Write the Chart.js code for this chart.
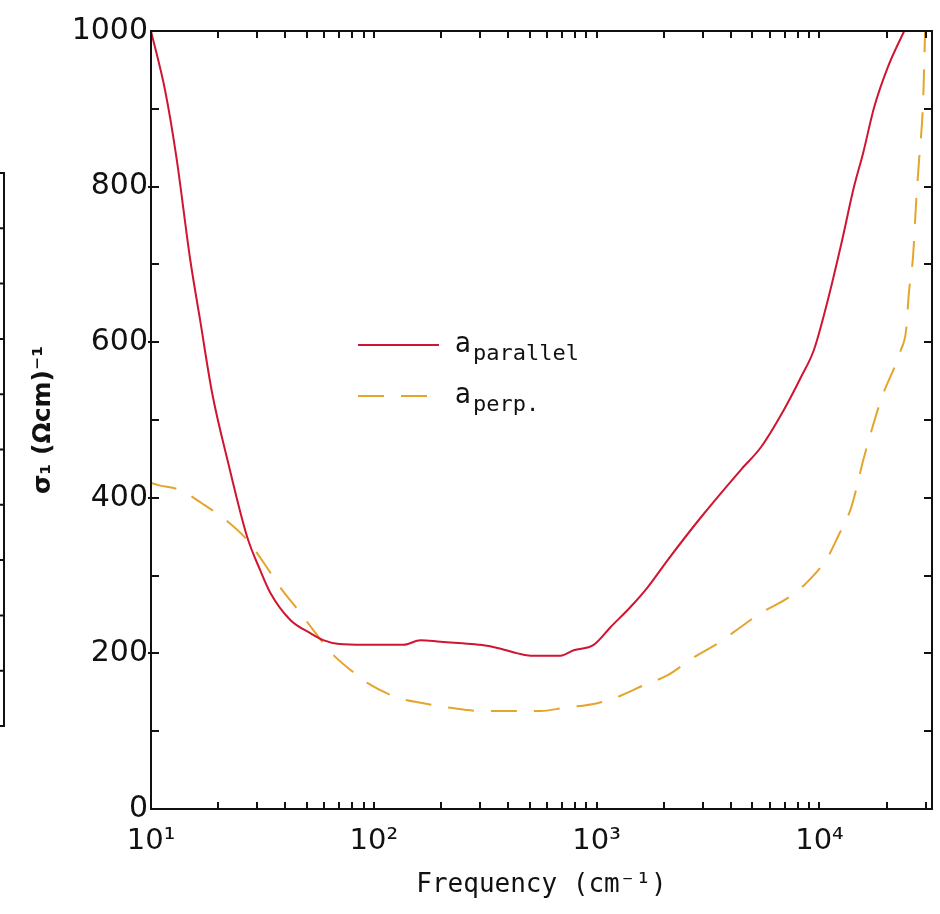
<!DOCTYPE html>
<html lang="en">
<head>
<meta charset="UTF-8">
<title>Optical conductivity</title>
<script src="https://cdn.jsdelivr.net/npm/chart.js@4.4.1/dist/chart.umd.min.js"></script>
<style>
  html, body { margin: 0; padding: 0; background: #fff; }
  #wrap { width: 940px; height: 914px; }
</style>
</head>
<body>
<div id="wrap"><canvas id="sigma-chart" width="940" height="914"></canvas></div>
<script>
// values
const parFreq = [10, 11.6, 13, 15, 16.6, 18.8, 22.2, 27, 30.9, 34.3, 42.2, 51.9, 59.3, 70, 90, 136, 162, 199, 250, 301,
    371, 442, 505, 600, 689, 789, 970, 1157, 1422, 1694, 2084, 2940, 4440, 5460, 6920, 8260, 9440, 10900, 12500, 14300,
    15700, 17600, 20300, 24000];
const parSigma = [1000, 922, 838, 706, 629, 535, 445, 350, 307, 278, 243, 226, 217, 212, 211, 211, 217, 215, 213, 211,
    206, 200, 197, 197, 197, 204, 211, 234, 260, 285, 320, 375, 436, 465, 513, 555, 590, 654, 725, 800,
    843, 902, 954, 1000];

const perpFreq = [10, 10.9, 13.5, 16.9, 22.2, 27, 32.5, 38, 46.8, 53.5, 65.8, 78.4, 93.5, 128, 167, 221, 301, 560, 711, 1009,
    1242, 1626, 2084, 2729, 3500, 4440, 5460, 7290, 8700, 10900, 12100, 13900, 15850, 18900, 23200, 24500, 25200, 26300, 27200, 28000,
    29200, 29800];
const perpSigma = [419, 416, 410, 393, 369, 346, 314, 285, 252, 230, 198, 179, 162, 143, 136, 130, 126, 126, 130, 136,
    144, 159, 172, 195, 213, 234, 252, 272, 290, 324, 350, 388, 452, 526, 590, 616, 663, 710, 783, 834,
    911, 1000];

const xTickValues = [10, 100, 1000, 10000];
const xTickLabels = ['10¹', '10²', '10³', '10⁴'];
const yTickValues = [0, 200, 400, 600, 800, 1000];
const yMinorStep = 100;

const legendMain = ['a', 'a'];
const legendSub = ['parallel', 'perp.'];

const RED = '#cf1530';
const ORANGE = '#e5a52c';

// minor ticks of the log axis: 2..9 in every decade
const xMinorTicks = [];
for (let d = 10; d < 40000; d *= 10) {
    for (let m = 1; m <= 9; m++) {
        const v = d * m;
        if (v <= 32000) xMinorTicks.push(v);
    }
}

const toPoints = (xs, ys) => xs.map((v, i) => ({ x: v, y: ys[i] }));

// box, inward ticks, legend and the edge of the neighbouring panel
const frameAndTicks = {
    id: 'frameAndTicks',
    beforeDraw(chart) {
        const { ctx } = chart;
        ctx.save();
        ctx.strokeStyle = '#111';
        ctx.lineWidth = 2;
        ctx.beginPath();
        ctx.moveTo(0, 173); ctx.lineTo(4, 173); ctx.lineTo(4, 726); ctx.lineTo(0, 726);
        for (let i = 1; i < 10; i++) {
            const py = 173 + i * 55.3;
            ctx.moveTo(0, py); ctx.lineTo(4, py);
        }
        ctx.stroke();
        ctx.restore();
    },
    afterDatasetsDraw(chart) {
        const { ctx, chartArea: a, scales: { x, y } } = chart;
        ctx.save();
        ctx.strokeStyle = '#111';
        ctx.lineWidth = 2;
        ctx.strokeRect(a.left, a.top, a.right - a.left, a.bottom - a.top);
        ctx.beginPath();
        xMinorTicks.forEach(v => {
            const px = Math.round(x.getPixelForValue(v));
            ctx.moveTo(px, a.bottom); ctx.lineTo(px, a.bottom - 7);
            ctx.moveTo(px, a.top); ctx.lineTo(px, a.top + 7);
        });
        for (let v = yMinorStep; v < 1000; v += yMinorStep) {
            const py = Math.round(y.getPixelForValue(v));
            const major = yTickValues.includes(v);
            ctx.moveTo(a.left - (major ? 3 : 0), py); ctx.lineTo(a.left + 8, py);
            ctx.moveTo(a.right, py); ctx.lineTo(a.right - 8, py);
        }
        ctx.stroke();

        // legend inside the plot
        const lx0 = a.left + 207, lx1 = a.left + 288;
        const rows = [a.top + 314, a.top + 365];
        chart.data.datasets.forEach((ds, i) => {
            ctx.strokeStyle = ds.borderColor;
            ctx.lineWidth = 2;
            ctx.setLineDash(ds.borderDash || []);
            ctx.beginPath();
            ctx.moveTo(lx0, rows[i]); ctx.lineTo(lx1, rows[i]);
            ctx.stroke();
            ctx.setLineDash([]);
            ctx.fillStyle = '#111';
            ctx.textBaseline = 'alphabetic';
            ctx.font = '29px "DejaVu Sans Condensed", "DejaVu Sans"';
            ctx.fillText(legendMain[i], a.left + 304, rows[i] + 7);
            const w = ctx.measureText(legendMain[i]).width;
            ctx.font = '22px "DejaVu Sans Mono"';
            ctx.fillText(legendSub[i], a.left + 306 + w, rows[i] + 15);
        });
        ctx.restore();
    }
};

const ctx = document.getElementById('sigma-chart').getContext('2d');
const chart = new Chart(ctx, {
    type: 'line',
    data: {
        datasets: [{
            label: 'a parallel',
            data: toPoints(parFreq, parSigma),
            borderColor: RED,
            borderWidth: 2,
            pointRadius: 0,
            cubicInterpolationMode: 'monotone',
            fill: false
        }, {
            label: 'a perp.',
            data: toPoints(perpFreq, perpSigma),
            borderColor: ORANGE,
            borderWidth: 2,
            borderDash: [26, 17],
            pointRadius: 0,
            cubicInterpolationMode: 'monotone',
            fill: false
        }]
    },
    options: {
        responsive: false,
        devicePixelRatio: 1,
        animation: false,
        layout: { padding: { top: 31, right: 8, left: 0, bottom: 0 } },
        plugins: {
            legend: { display: false },
            tooltip: { enabled: false }
        },
        scales: {
            x: {
                type: 'logarithmic',
                min: 10,
                max: 32000,
                grid: { display: false, drawTicks: false },
                border: { display: false },
                afterBuildTicks: scale => {
                    scale.ticks = xTickValues.map(v => ({ value: v }));
                },
                afterFit: scale => { scale.height = 105; },
                ticks: {
                    autoSkip: false,
                    maxRotation: 0,
                    padding: 15,
                    color: '#111',
                    font: { family: 'DejaVu Sans', size: 29 },
                    callback: value => xTickLabels[xTickValues.indexOf(value)] || ''
                },
                title: {
                    display: true,
                    text: 'Frequency (cm⁻¹)',
                    color: '#111',
                    font: { family: 'DejaVu Sans Mono', size: 26 },
                    padding: { top: 0, bottom: 13 }
                }
            },
            y: {
                min: 0,
                max: 1000,
                grid: { display: false, drawTicks: false },
                border: { display: false },
                afterBuildTicks: scale => {
                    scale.ticks = yTickValues.map(v => ({ value: v }));
                },
                afterFit: scale => { scale.width = 151; },
                ticks: {
                    padding: 3,
                    color: '#111',
                    font: { family: 'DejaVu Sans', size: 30 },
                    callback: value => String(value)
                },
                title: {
                    display: true,
                    text: 'σ₁ (Ωcm)⁻¹',
                    color: '#111',
                    font: { family: 'DejaVu Sans', size: 25, weight: 'bold' },
                    padding: { top: 28, bottom: 0 }
                }
            }
        }
    },
    plugins: [frameAndTicks]
});
</script>
</body>
</html>
